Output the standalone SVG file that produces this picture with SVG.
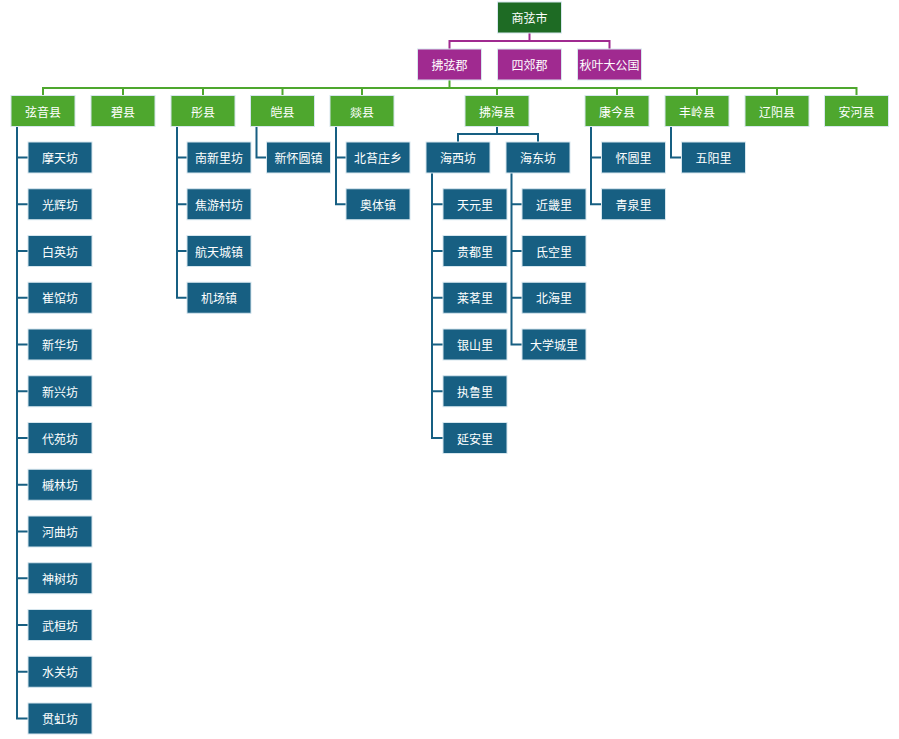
<svg xmlns="http://www.w3.org/2000/svg" width="899" height="739" viewBox="0 0 899 739">
<style>
.b{stroke:#d6e6ee;stroke-width:1}
.root{fill:#1e6b24}
.l2{fill:#a02a90}
.l3{fill:#4ea72e}
.l4{fill:#175f82}
text{font-family:"Noto Sans CJK SC","Noto Sans",sans-serif;font-size:12px;fill:#ffffff;text-anchor:middle;dominant-baseline:central}
.c{fill:none;stroke-width:2}
</style>
<rect width="899" height="739" fill="#ffffff"/>
<g id="connectors">
<path class="c" stroke="#a02a90" d="M529.5 33 V41 M449.5 49 V41 H609.5 V49"/>
<path class="c" stroke="#4ea72e" d="M449.5 80 V88 M43 96 V88 H856.5 V96 M123 88 V96 M203 88 V96 M282.5 88 V96 M362 88 V96 M497 88 V96 M617 88 V96 M697 88 V96 M777 88 V96"/>
<path class="c" stroke="#175f82" d="M17 126.5 V718.5 H28 M17 157.5 H28 M17 204.25 H28 M17 251 H28 M17 297.75 H28 M17 344.5 H28 M17 391.25 H28 M17 438 H28 M17 484.75 H28 M17 531.5 H28 M17 578.25 H28 M17 625 H28 M17 671.75 H28"/>
<path class="c" stroke="#175f82" d="M177 126.5 V297.75 H187 M177 157.5 H187 M177 204.25 H187 M177 251 H187"/>
<path class="c" stroke="#175f82" d="M256.5 126.5 V157.5 H266.5"/>
<path class="c" stroke="#175f82" d="M336 126.5 V204.25 H346 M336 157.5 H346"/>
<path class="c" stroke="#175f82" d="M497 126.5 V134 M458 142 V134 H538 V142"/>
<path class="c" stroke="#175f82" d="M432 173 V438 H443 M432 204.25 H443 M432 251 H443 M432 297.75 H443 M432 344.5 H443 M432 391.25 H443"/>
<path class="c" stroke="#175f82" d="M511.5 173 V344.5 H522 M511.5 204.25 H522 M511.5 251 H522 M511.5 297.75 H522"/>
<path class="c" stroke="#175f82" d="M591 126.5 V204.25 H601.5 M591 157.5 H601.5"/>
<path class="c" stroke="#175f82" d="M671 126.5 V157.5 H681.5"/>
</g>
<g id="n-root"><rect class="b root" x="497.5" y="2" width="64" height="31"/><text x="529.5" y="17.5">商弦市</text></g>
<g id="n-fuxianjun"><rect class="b l2" x="417.5" y="49" width="64" height="31"/><text x="449.5" y="64.5">拂弦郡</text></g>
<g id="n-sijiaojun"><rect class="b l2" x="497.5" y="49" width="64" height="31"/><text x="529.5" y="64.5">四郊郡</text></g>
<g id="n-qiuye"><rect class="b l2" x="577.5" y="49" width="64" height="31"/><text x="609.5" y="64.5">秋叶大公国</text></g>
<g id="n-xianyin"><rect class="b l3" x="11" y="95.5" width="64" height="31"/><text x="43" y="111">弦音县</text></g>
<g id="n-bi"><rect class="b l3" x="91" y="95.5" width="64" height="31"/><text x="123" y="111">碧县</text></g>
<g id="n-tong"><rect class="b l3" x="171" y="95.5" width="64" height="31"/><text x="203" y="111">彤县</text></g>
<g id="n-ai"><rect class="b l3" x="250.5" y="95.5" width="64" height="31"/><text x="282.5" y="111">皑县</text></g>
<g id="n-yan"><rect class="b l3" x="330" y="95.5" width="64" height="31"/><text x="362" y="111">燚县</text></g>
<g id="n-fuhai"><rect class="b l3" x="465" y="95.5" width="64" height="31"/><text x="497" y="111">拂海县</text></g>
<g id="n-kangjin"><rect class="b l3" x="585" y="95.5" width="64" height="31"/><text x="617" y="111">康今县</text></g>
<g id="n-fengling"><rect class="b l3" x="665" y="95.5" width="64" height="31"/><text x="697" y="111">丰岭县</text></g>
<g id="n-liaoyang"><rect class="b l3" x="745" y="95.5" width="64" height="31"/><text x="777" y="111">辽阳县</text></g>
<g id="n-anhe"><rect class="b l3" x="824.5" y="95.5" width="64" height="31"/><text x="856.5" y="111">安河县</text></g>
<g id="n-motian"><rect class="b l4" x="28" y="142" width="64" height="31"/><text x="60" y="157.5">摩天坊</text></g>
<g id="n-guanghui"><rect class="b l4" x="28" y="188.75" width="64" height="31"/><text x="60" y="204.25">光辉坊</text></g>
<g id="n-baiying"><rect class="b l4" x="28" y="235.5" width="64" height="31"/><text x="60" y="251">白英坊</text></g>
<g id="n-cuiguan"><rect class="b l4" x="28" y="282.25" width="64" height="31"/><text x="60" y="297.75">崔馆坊</text></g>
<g id="n-xinhua"><rect class="b l4" x="28" y="329" width="64" height="31"/><text x="60" y="344.5">新华坊</text></g>
<g id="n-xinxing"><rect class="b l4" x="28" y="375.75" width="64" height="31"/><text x="60" y="391.25">新兴坊</text></g>
<g id="n-daiyuan"><rect class="b l4" x="28" y="422.5" width="64" height="31"/><text x="60" y="438">代苑坊</text></g>
<g id="n-qilin"><rect class="b l4" x="28" y="469.25" width="64" height="31"/><text x="60" y="484.75">槭林坊</text></g>
<g id="n-hequ"><rect class="b l4" x="28" y="516" width="64" height="31"/><text x="60" y="531.5">河曲坊</text></g>
<g id="n-shenshu"><rect class="b l4" x="28" y="562.75" width="64" height="31"/><text x="60" y="578.25">神树坊</text></g>
<g id="n-wuheng"><rect class="b l4" x="28" y="609.5" width="64" height="31"/><text x="60" y="625">武桓坊</text></g>
<g id="n-shuiguan"><rect class="b l4" x="28" y="656.25" width="64" height="31"/><text x="60" y="671.75">水关坊</text></g>
<g id="n-guanhong"><rect class="b l4" x="28" y="703" width="64" height="31"/><text x="60" y="718.5">贯虹坊</text></g>
<g id="n-nanxinli"><rect class="b l4" x="187" y="142" width="64" height="31"/><text x="219" y="157.5">南新里坊</text></g>
<g id="n-jiaoyoucun"><rect class="b l4" x="187" y="188.75" width="64" height="31"/><text x="219" y="204.25">焦游村坊</text></g>
<g id="n-hangtian"><rect class="b l4" x="187" y="235.5" width="64" height="31"/><text x="219" y="251">航天城镇</text></g>
<g id="n-jichang"><rect class="b l4" x="187" y="282.25" width="64" height="31"/><text x="219" y="297.75">机场镇</text></g>
<g id="n-xinhuaiyuan"><rect class="b l4" x="266.5" y="142" width="64" height="31"/><text x="298.5" y="157.5">新怀圆镇</text></g>
<g id="n-beitaizhuang"><rect class="b l4" x="346" y="142" width="64" height="31"/><text x="378" y="157.5">北苔庄乡</text></g>
<g id="n-aoti"><rect class="b l4" x="346" y="188.75" width="64" height="31"/><text x="378" y="204.25">奥体镇</text></g>
<g id="n-haixi"><rect class="b l4" x="426" y="142" width="64" height="31"/><text x="458" y="157.5">海西坊</text></g>
<g id="n-haidong"><rect class="b l4" x="506" y="142" width="64" height="31"/><text x="538" y="157.5">海东坊</text></g>
<g id="n-tianyuan"><rect class="b l4" x="443" y="188.75" width="64" height="31"/><text x="475" y="204.25">天元里</text></g>
<g id="n-guidu"><rect class="b l4" x="443" y="235.5" width="64" height="31"/><text x="475" y="251">贵都里</text></g>
<g id="n-laiming"><rect class="b l4" x="443" y="282.25" width="64" height="31"/><text x="475" y="297.75">莱茗里</text></g>
<g id="n-yinshan"><rect class="b l4" x="443" y="329" width="64" height="31"/><text x="475" y="344.5">银山里</text></g>
<g id="n-zhilu"><rect class="b l4" x="443" y="375.75" width="64" height="31"/><text x="475" y="391.25">执鲁里</text></g>
<g id="n-yanan"><rect class="b l4" x="443" y="422.5" width="64" height="31"/><text x="475" y="438">延安里</text></g>
<g id="n-jinji"><rect class="b l4" x="522" y="188.75" width="64" height="31"/><text x="554" y="204.25">近畿里</text></g>
<g id="n-dikong"><rect class="b l4" x="522" y="235.5" width="64" height="31"/><text x="554" y="251">氐空里</text></g>
<g id="n-beihai"><rect class="b l4" x="522" y="282.25" width="64" height="31"/><text x="554" y="297.75">北海里</text></g>
<g id="n-daxuecheng"><rect class="b l4" x="522" y="329" width="64" height="31"/><text x="554" y="344.5">大学城里</text></g>
<g id="n-huaiyuan"><rect class="b l4" x="601.5" y="142" width="64" height="31"/><text x="633.5" y="157.5">怀圆里</text></g>
<g id="n-qingquan"><rect class="b l4" x="601.5" y="188.75" width="64" height="31"/><text x="633.5" y="204.25">青泉里</text></g>
<g id="n-wuyang"><rect class="b l4" x="681.5" y="142" width="64" height="31"/><text x="713.5" y="157.5">五阳里</text></g>
</svg>
